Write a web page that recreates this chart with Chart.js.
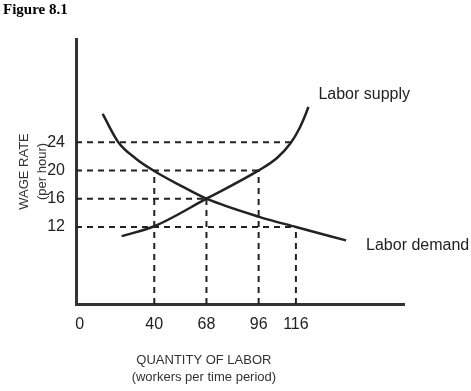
<!DOCTYPE html>
<html>
<head>
<meta charset="utf-8">
<title>Figure 8.1</title>
<script src="https://cdn.jsdelivr.net/npm/chart.js@4.4.1/dist/chart.umd.min.js"></script>
<style>
  html, body { margin: 0; padding: 0; background: #fff; }
  #chart { display: block; }
</style>
</head>
<body>
<canvas id="chart" width="471" height="391"></canvas>
<script>
// --- data ---
const figureTitle = 'Figure 8.1';
const wageTicks = [12, 16, 20, 24];
const quantityTicks = [0, 40, 68, 96, 116];

const supplyQty = [22.5, 40, 68, 96, 106, 113, 118, 121, 122.7];
const supplyWage = [10.7, 12.1, 16, 20, 21.8, 23.8, 26, 27.8, 29];
const demandQty = [12.3, 20.7, 30, 39.5, 53.8, 68, 96.7, 116, 142.9];
const demandWage = [28, 24, 21.7, 20, 17.9, 16, 13.4, 12, 10.1];

// dotted guide lines: horizontal (wage -> quantity where it stops), vertical (quantity -> wage where it stops)
const hGuideWage = [24, 20, 16, 12];
const hGuideEnd = [114, 96, 68, 116];
const vGuideQty = [40, 68, 96, 116];
const vGuideTop = [20, 16, 20, 12];

const curveNames = ['Labor supply', 'Labor demand'];

// --- axis limits ---
const Q_MIN = -2, Q_MAX = 174;
const W_MIN = 1.1, W_MAX = 38.6;

const INK = '#222';
const toPoints = (xs, ys) => xs.map((x, i) => ({ x, y: ys[i] }));

const guideStyle = {
    borderColor: INK, borderWidth: 2, borderDash: [6, 5],
    pointRadius: 0, fill: false, order: 2
};
const curveStyle = {
    borderColor: INK, borderWidth: 2.5, pointRadius: 0, fill: false,
    cubicInterpolationMode: 'monotone', order: 1
};

const datasets = [
    ...hGuideWage.map((w, i) => ({ ...guideStyle, data: [{ x: Q_MIN, y: w }, { x: hGuideEnd[i], y: w }] })),
    ...vGuideQty.map((q, i) => ({ ...guideStyle, data: [{ x: q, y: W_MIN }, { x: q, y: vGuideTop[i] }] })),
    { ...curveStyle, label: curveNames[0], data: toPoints(supplyQty, supplyWage), labelOffset: [10, -8] },
    { ...curveStyle, label: curveNames[1], data: toPoints(demandQty, demandWage), labelOffset: [20, 10] }
];

// writes the curve names next to the end of each curve
const curveLabels = {
    id: 'curveLabels',
    afterDatasetsDraw(chart) {
        const { ctx, scales: { x, y } } = chart;
        ctx.save();
        ctx.font = '16px "Liberation Sans", Arial, sans-serif';
        ctx.fillStyle = INK;
        ctx.textAlign = 'left';
        ctx.textBaseline = 'alphabetic';
        chart.data.datasets.forEach(ds => {
            if (!ds.label) return;
            const last = ds.data[ds.data.length - 1];
            ctx.fillText(ds.label,
                x.getPixelForValue(last.x) + ds.labelOffset[0],
                y.getPixelForValue(last.y) + ds.labelOffset[1]);
        });
        ctx.restore();
    }
};

const tickFont = { family: '"Liberation Sans", Arial, sans-serif', size: 16 };
const titleFont = { family: '"Liberation Sans", Arial, sans-serif', size: 13 };
const axisBorder = { display: true, color: '#333', width: 3 };

new Chart(document.getElementById('chart'), {
    type: 'line',
    data: { datasets },
    options: {
        responsive: false,
        animation: false,
        layout: { padding: { left: 3, right: 67, top: 0, bottom: 0 } },
        plugins: {
            legend: { display: false },
            tooltip: { enabled: false },
            title: {
                display: true,
                text: figureTitle,
                align: 'start',
                color: '#000',
                font: { family: '"Liberation Serif", "Times New Roman", serif', size: 15, weight: 'bold', lineHeight: 1.2 },
                padding: { top: 1, bottom: 20 }
            }
        },
        scales: {
            x: {
                type: 'linear',
                min: Q_MIN, max: Q_MAX,
                grid: { display: false, drawTicks: false },
                border: axisBorder,
                afterBuildTicks: scale => { scale.ticks = quantityTicks.map(v => ({ value: v })); },
                afterFit: scale => { scale.height = 87; },
                ticks: { color: INK, font: tickFont, padding: 11, maxRotation: 0, autoSkip: false },
                title: {
                    display: true,
                    // trailing spaces nudge the centred caption left, like the original
                    text: ['QUANTITY OF LABOR' + ' '.repeat(20), '(workers per time period)' + ' '.repeat(20)],
                    color: '#333',
                    font: { ...titleFont, lineHeight: 1.31 },
                    padding: { top: 0, bottom: 5 }
                }
            },
            y: {
                type: 'linear',
                min: W_MIN, max: W_MAX,
                grid: { display: false, drawTicks: false },
                border: axisBorder,
                afterBuildTicks: scale => { scale.ticks = wageTicks.map(v => ({ value: v })); },
                afterFit: scale => { scale.width = 73; },
                ticks: { color: INK, font: tickFont, padding: 11 },
                title: {
                    display: true,
                    text: ['WAGE RATE', '(per hour)'],
                    color: '#333',
                    font: { ...titleFont, lineHeight: 1.4 },
                    padding: { top: 12, bottom: 0 }
                }
            }
        }
    },
    plugins: [curveLabels]
});
</script>
</body>
</html>
